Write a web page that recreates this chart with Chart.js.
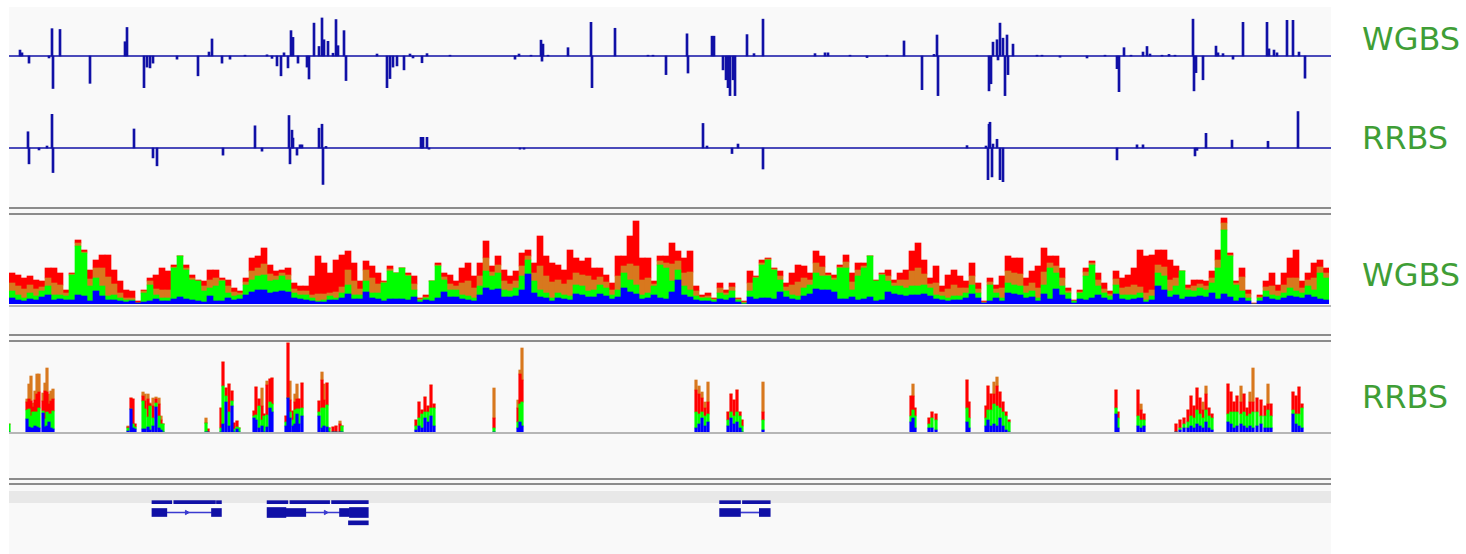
<!DOCTYPE html>
<html><head><meta charset="utf-8">
<script src="https://cdn.jsdelivr.net/npm/chart.js@4/dist/chart.umd.min.js"></script>
<style>
html,body{margin:0;padding:0;background:#fff;width:1466px;height:554px;overflow:hidden;}
#panel{position:absolute;left:9px;top:7px;width:1322px;height:547px;background:#f9f9f9;}
.box{position:absolute;}
.sep{position:absolute;left:9px;width:1322px;height:2px;background:#8c8c8c;}
.base{position:absolute;left:9px;width:1322px;height:2px;background:#b6b6b6;}
.band{position:absolute;left:9px;width:1322px;top:491px;height:12px;background:#e8e8e8;}
.lbl{position:absolute;left:1362px;font-family:'DejaVu Sans',sans-serif;font-size:32px;line-height:32px;color:#3f9e36;white-space:nowrap;}
</style></head><body>
<div id="panel"></div>
<div class="sep" style="top:207px"></div><div class="sep" style="top:213px"></div>
<div class="sep" style="top:334px"></div><div class="sep" style="top:340px"></div>
<div class="sep" style="top:478px"></div><div class="sep" style="top:483px"></div>
<div class="base" style="top:305px"></div><div class="base" style="top:432px"></div>
<div class="band"></div>
<div class="box" style="left:9px;top:14px;width:1322px;height:84px"><canvas id="m1"></canvas></div>
<div class="box" style="left:9px;top:106px;width:1322px;height:84px"><canvas id="m2"></canvas></div>
<div class="box" style="left:9px;top:214px;width:1320px;height:90px"><canvas id="c1"></canvas></div>
<div class="box" style="left:9px;top:342px;width:1322px;height:90px"><canvas id="c2"></canvas></div>
<div class="box" style="left:9px;top:492px;width:1322px;height:41px"><canvas id="g"></canvas></div>
<div class="lbl" style="top:23px">WGBS</div>
<div class="lbl" style="top:122px">RRBS</div>
<div class="lbl" style="top:259px">WGBS</div>
<div class="lbl" style="top:381px">RRBS</div>
<script>
// ---- data ----
const REGION_LEN = 1322;
const trackLabels = ['WGBS','RRBS','WGBS','RRBS'];

// methylation difference, WGBS (position, value)
const wgbsPos = [11,13,20,40,43,44,51,81,116,118,
135,138,141,144,168,189,200,203,213,221,
236,258,263,268,272,275,279,282,284,289,
298,300,305,310,313,315,319,324,327,329,
335,337,368,378,381,384,388,395,401,404,
413,418,441,506,510,522,532,533,534,539,
559,582,583,606,639,644,657,678,679,703,
705,714,717,719,721,724,726,738,745,754,
806,816,819,841,858,878,895,913,925,928,
929,980,982,984,988,989,991,994,996,998,
999,1004,1028,1033,1051,1078,1096,1108,1110,1115,
1122,1134,1138,1141,1153,1160,1166,1184,1185,1187,
1194,1207,1209,1214,1224,1234,1258,1260,1265,1268,
1278,1284,1290,1296];
const wgbsVal = [0.15,0.08,-0.18,-0.05,0.69,-0.82,0.67,-0.69,0.36,0.72,
-0.8,-0.28,-0.3,-0.18,-0.08,-0.5,0.1,0.43,-0.18,-0.08,
0.02,0.03,-0.06,-0.25,-0.5,0.08,-0.3,0.64,0.47,-0.18,
-0.28,-0.58,0.83,0.24,0.96,0.41,0.37,0.07,0.92,0.26,
0.64,-0.62,0.05,-0.8,-0.57,-0.28,-0.25,-0.35,0.05,-0.05,
-0.17,0.06,0.02,-0.08,0.05,0.02,0.4,-0.13,0.3,0.02,
0.21,0.85,-0.8,0.7,0.02,0.02,-0.47,0.56,-0.43,0.5,
0.5,-0.35,-0.6,-0.8,-1.0,-0.6,-1.0,0.54,0.06,0.93,
0.06,0.08,0.08,0.02,-0.04,0.02,0.38,-0.85,0.04,0.53,
-1.0,-0.88,-0.7,0.35,0.41,-0.1,0.83,0.45,-1.0,0.53,
-0.47,0.3,0.02,0.02,-0.03,-0.05,0.02,-0.32,-0.9,0.21,
0.02,0.1,0.24,0.05,0.02,0.04,0.02,0.93,-0.88,-0.42,
-0.6,0.25,0.08,0.06,-0.08,0.85,0.85,0.18,0.15,0.08,
0.9,0.9,0.1,-0.56];

// methylation difference, RRBS
const rrbsPos = [19,20,30,38,43,44,125,144,148,214,246,253,280,281,283,284,288,291,293,
310,313,314,317,412,413,414,418,420,511,515,694,698,723,729,754,958,
977,979,980,981,983,984,988,991,994,1108,1128,1134,1186,1188,1197,1223,1259,1289];
const rrbsVal = [0.41,-0.4,-0.05,0.05,0.85,-0.62,0.48,-0.25,-0.45,-0.18,0.56,-0.08,0.82,-0.4,0.45,0.25,-0.18,0.08,0.08,
0.5,0.6,-0.92,0.04,0.27,0.1,0.27,0.27,-0.03,-0.03,-0.03,0.62,0.05,-0.14,0.1,-0.53,0.06,
0.05,-0.8,0.6,0.65,-0.73,0.1,0.22,-0.8,-0.85,-0.3,0.08,0.08,-0.2,-0.06,0.37,0.2,0.17,0.92];

// WGBS coverage, 220 bins, stacked base counts
const covBlue = [6,4,3,5,4,7,9,4,5,4, 4,9,8,3,13,8,4,4,3,2, 3,1,2,3,5,3,3,5,7,5, 4,3,2,8,3,3,6,4,5,9,
12,14,14,11,12,13,12,6,5,4, 3,2,2,4,4,6,10,5,5,12, 6,5,3,5,5,5,4,7,2,4, 3,6,12,7,7,5,4,3,9,16,
14,15,7,7,8,14,30,11,7,6, 3,6,5,4,10,9,7,7,10,8, 5,7,16,12,10,5,6,9,6,5, 12,24,9,7,4,3,3,2,5,4,
6,2,0,7,5,6,6,5,12,7, 5,4,8,10,15,14,14,12,5,5, 7,4,5,7,3,4,12,10,9,8, 9,9,10,8,5,4,3,4,4,6,
10,6,1,3,6,3,11,10,9,6, 7,3,10,5,15,9,5,1,5,4, 6,9,6,4,10,5,4,5,6,2, 4,18,14,7,9,5,7,7,8,7,
11,5,10,7,3,6,3,0,3,7, 5,4,6,8,7,6,9,7,5,4];
const covGreen = [7,5,3,6,4,6,9,5,4,4, 25,49,43,15,13,10,4,5,3,2, 1,0,9,16,4,3,3,31,41,29, 20,20,11,8,15,20,5,4,4,10,
12,14,15,12,12,15,12,5,4,5, 3,1,2,4,2,5,9,4,4,11, 5,6,18,28,26,31,24,7,2,2, 20,32,12,7,7,4,4,3,9,17,
14,16,7,6,8,14,14,12,7,5, 3,5,4,4,9,9,6,7,9,8, 4,7,15,12,9,4,5,9,33,31, 11,10,9,7,4,3,3,2,6,5,
7,2,1,6,21,33,38,29,12,6, 4,4,8,9,16,14,14,12,31,31, 7,24,31,41,20,25,11,8,9,8, 9,9,9,8,4,4,3,4,4,5,
9,5,0,16,5,3,10,9,9,5, 6,3,9,31,16,9,6,2,6,24, 33,9,5,4,9,4,5,4,5,2, 4,13,14,6,9,28,7,6,8,7,
10,31,64,41,16,7,3,0,3,6, 4,4,5,8,6,5,9,7,26,22];
const covRed = [10,11,11,9,9,6,10,15,12,3, 1,3,2,9,8,13,22,14,12,8, 7,2,1,3,14,22,19,2,0,3, 3,1,5,10,8,2,6,4,2,4,
13,12,16,9,5,3,7,6,5,5, 19,38,31,20,32,32,19,18,8,9, 12,11,1,3,0,0,2,8,1,2, 0,2,4,9,5,15,18,12,13,17,
6,9,11,8,10,13,6,10,30,20, 19,15,14,30,15,14,18,12,9,7, 7,20,10,28,45,22,20,3,5,7, 21,10,15,21,5,2,3,1,5,3,
4,1,1,12,1,3,1,1,5,4, 12,17,12,7,12,11,2,3,2,7, 9,7,3,0,1,1,6,3,7,10, 20,25,14,6,17,6,14,15,12,7,
13,6,1,4,4,12,15,15,16,8, 12,22,24,7,10,10,3,1,2,4, 2,7,6,3,8,10,12,17,37,37, 35,15,17,20,12,0,3,6,4,5,
7,10,5,2,2,9,4,1,2,6, 13,6,12,20,28,7,7,15,7,5];
const covOrange = [8,9,9,8,7,4,8,12,10,3, 1,3,1,7,10,18,19,11,5,2, 2,0,2,4,6,8,8,1,0,2, 2,0,5,8,8,1,7,4,2,3,
9,8,11,7,4,3,5,4,4,4, 3,7,6,3,6,6,15,14,6,11, 15,9,1,2,0,0,1,6,1,1, 0,1,3,6,4,12,15,10,10,13,
4,8,9,7,7,10,4,8,24,17, 16,13,11,16,12,11,15,10,8,6, 5,14,7,16,19,15,15,2,4,5, 17,9,13,18,5,1,2,1,5,2,
4,1,1,8,1,2,1,1,4,4, 10,14,10,5,10,9,1,2,1,6, 8,6,2,0,0,1,5,3,6,8, 15,18,11,4,12,4,9,11,8,5,
9,4,1,3,4,10,12,12,12,7, 8,10,13,5,7,8,2,0,1,4, 2,6,4,2,6,7,8,10,6,7, 6,8,9,11,8,0,2,5,4,4,
5,8,7,1,2,14,4,0,1,4, 9,5,8,10,13,5,6,12,6,5];
const COV_BIN = 6;

// RRBS coverage, sparse columns
const rrPos = [0,18,20,22,24,26,28,30,34,36,38,40,42,44,
119,122,124,126,134,136,139,141,144,147,150,152,154,
197,199,
212,214,217,220,223,225,228,230,
245,247,250,253,255,258,261,263,
277,279,281,284,286,288,290,293,
310,313,315,318,320,324,327,331,333,
407,410,413,416,419,422,425,
485,509,511,513,
687,690,693,696,699,
719,722,725,728,731,733,754,
902,904,906,920,923,927,
958,960,
977,979,982,985,988,991,994,997,1000,
1107,1109,1129,1132,1135,
1167,1171,1175,1179,1182,1185,1188,1191,1194,1197,1200,1203,
1219,1222,1225,1228,1232,1235,1238,1241,1244,1248,1252,1256,1259,1262,
1284,1287,1290,1293];
const rrBlue = [0,13,5,4,4,6,5,4,19,5,6,10,4,3,
1,23,4,3,3,3,5,2,6,25,4,2,0,
0,0,
0,8,30,6,26,0,3,0,
14,12,4,6,0,5,24,20,
6,34,14,6,8,18,8,16,
16,4,6,5,0,0,0,0,0,
2,6,4,14,10,16,6,
0,4,10,6,
4,8,14,6,10,
6,14,8,10,4,0,2,
10,14,4,4,4,2,
10,4,
6,12,6,8,6,14,6,2,0,
18,4,6,4,6,
0,2,4,4,6,4,8,6,4,10,4,2,
10,8,4,6,8,6,4,6,4,6,8,4,4,4,
18,8,6,4];
const rrGreen = [8,9,18,12,16,14,15,20,2,8,14,8,14,18,
3,0,4,2,28,20,10,24,8,4,12,6,8,
9,0,
4,38,6,14,5,3,2,4,
2,5,22,6,16,12,6,8,
4,0,6,6,14,5,15,8,
4,20,18,22,4,0,0,0,6,
4,8,14,6,10,8,18,
4,6,18,24,
16,10,6,10,8,
6,6,8,10,12,6,10,
6,8,12,4,10,10,
14,10,
8,10,16,20,20,10,14,14,10,
6,10,10,8,6,
0,2,4,6,10,10,14,12,10,12,12,12,
8,12,16,14,10,14,12,12,16,14,8,12,18,12,
4,10,12,20];
const rrRed = [0,8,10,15,5,12,18,16,10,28,20,10,13,12,
1,11,25,3,5,8,18,2,12,4,12,4,0,
0,3,
20,24,8,28,10,6,6,0,
5,28,7,14,2,30,23,26,
6,55,12,9,8,10,10,25,
11,28,8,22,0,5,6,8,0,
6,16,4,15,6,23,4,
10,14,30,22,
22,20,14,8,12,
8,18,16,22,4,6,8,
20,14,8,6,6,6,
28,16,
12,24,16,10,20,16,10,4,2,
18,6,26,10,6,
8,8,6,12,20,12,22,16,8,16,8,4,
30,20,10,16,12,18,8,12,10,14,16,10,6,12,
18,18,27,4];
const rrOrange = [0,3,15,25,4,9,20,18,8,8,24,10,10,10,
1,0,0,0,4,7,5,1,8,2,6,4,0,
5,0,
0,0,0,0,0,0,0,0,
0,0,0,18,0,4,0,0,
0,0,19,0,8,15,0,0,
0,8,16,0,0,0,0,3,0,
0,0,0,0,0,0,0,
30,8,4,32,
10,8,6,6,20,
0,0,0,0,0,0,30,
0,12,0,0,0,0,
0,0,
0,0,0,12,9,0,0,0,0,
0,0,0,6,0,
0,0,0,0,0,0,0,0,8,8,0,0,
0,0,0,0,16,0,0,10,34,0,0,0,20,0,
0,0,0,0];

// gene annotation (start, end)
const featureSegs = [[139,159],[161,203],[204,209],[255,276],[278,318],[320,357],[711,732],[734,762]];
const exonSegs = [[139,154],[199,209],[274,294],[328,338],[711,732],[751,762]];
const exonTallSegs = [[255,274],[338,357]];
const intronSegs = [[154,199],[294,328],[732,751]];
const altSegs = [[337,357]];
const strandArrows = [174,314];

// ---- drawing ----
const BLUE = '#1010a6';
const C_A = '#00ff00', C_C = '#0000ff', C_G = '#d8781e', C_T = '#ff0000';
function baseOpts(){
  return {responsive:true, maintainAspectRatio:false, animation:false, events:[],
    layout:{padding:0}, plugins:{legend:{display:false}, tooltip:{enabled:false}}};
}
function methChart(id, pos, val){
  new Chart(document.getElementById(id), {
    type:'bar',
    data:{datasets:[
      {type:'bar', label:'diff', data:pos.map((p,i)=>({x:p,y:val[i]})), backgroundColor:BLUE, barThickness:2, order:0},
      {type:'line', label:'zero', data:[{x:0,y:0},{x:REGION_LEN,y:0}], borderColor:BLUE, borderWidth:1.5, pointRadius:0, order:1}
    ]},
    options:Object.assign(baseOpts(), {scales:{
      x:{type:'linear', min:0, max:REGION_LEN, offset:false, display:false},
      y:{min:-1.06, max:1.06, display:false}}})
  });
}
methChart('m1', wgbsPos, wgbsVal);
methChart('m2', rrbsPos, rrbsVal);

const covBins = covBlue.map((_,i)=>i*COV_BIN);
new Chart(document.getElementById('c1'), {
  type:'bar',
  data:{labels:covBins, datasets:[
    {label:'C', data:covBlue, backgroundColor:C_C},
    {label:'A', data:covGreen, backgroundColor:C_A},
    {label:'G', data:covOrange, backgroundColor:C_G},
    {label:'T', data:covRed, backgroundColor:C_T}]},
  options:Object.assign(baseOpts(), {
    datasets:{bar:{barPercentage:1, categoryPercentage:1, borderWidth:0}},
    scales:{x:{stacked:true, display:false}, y:{stacked:true, min:0, max:90, display:false}}})
});

const pts = arr => rrPos.map((p,i)=>({x:p,y:arr[i]}));
new Chart(document.getElementById('c2'), {
  type:'bar',
  data:{datasets:[
    {label:'C', data:pts(rrBlue), backgroundColor:C_C},
    {label:'A', data:pts(rrGreen), backgroundColor:C_A},
    {label:'T', data:pts(rrRed), backgroundColor:C_T},
    {label:'G', data:pts(rrOrange), backgroundColor:C_G}]},
  options:Object.assign(baseOpts(), {
    datasets:{bar:{barThickness:2.5, borderWidth:0}},
    scales:{x:{type:'linear', min:0, max:REGION_LEN, offset:false, stacked:true, display:false},
            y:{stacked:true, min:0, max:90, display:false}}})
});

const segs = (arr,row) => arr.map(s=>({x:s, y:row}));
new Chart(document.getElementById('g'), {
  type:'bar',
  data:{datasets:[
    {label:'features', data:segs(featureSegs,0), backgroundColor:BLUE, barThickness:3},
    {label:'exons', data:segs(exonSegs,1), backgroundColor:BLUE, barThickness:8},
    {label:'exonsTall', data:segs(exonTallSegs,1), backgroundColor:BLUE, barThickness:10},
    {label:'introns', data:segs(intronSegs,1), backgroundColor:'#3a3ad0', barThickness:1},
    {label:'alt', data:segs(altSegs,2), backgroundColor:BLUE, barThickness:4},
    {type:'scatter', label:'strand', data:strandArrows.map(p=>({x:p,y:1})), pointStyle:'triangle', rotation:90,
     pointRadius:2.5, backgroundColor:'#3a3ad0', borderColor:'#3a3ad0', borderWidth:1}
  ]},
  options:Object.assign(baseOpts(), {indexAxis:'y',
    scales:{x:{type:'linear', min:0, max:REGION_LEN, offset:false, display:false},
            y:{type:'linear', min:-0.5, max:2.5, reverse:true, offset:false, stacked:true, display:false}}})
});
</script>
</body></html>
